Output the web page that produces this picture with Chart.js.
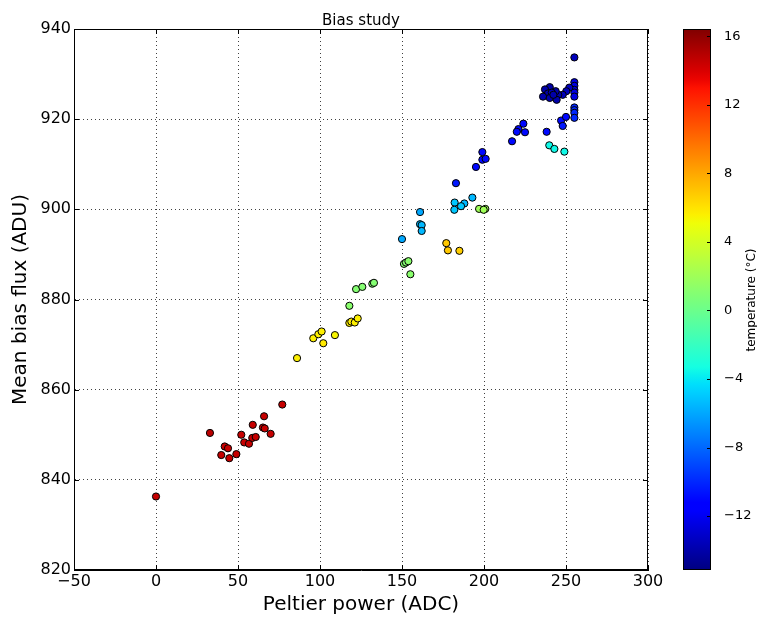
<!DOCTYPE html>
<html>
<head>
<meta charset="utf-8">
<script src="https://cdn.jsdelivr.net/npm/chart.js@4/dist/chart.umd.min.js"></script>
<style>
  html, body { margin: 0; padding: 0; background: #fff; }
  #wrap { width: 757px; height: 617px; }
</style>
</head>
<body>
<div id="wrap"><canvas id="bias"></canvas></div>
<script>
// puissance du peltier (ADC), flux moyen du bias (ADU), temperature (°C)
const peltierPower = [
  77.0, 65.9, 32.9, 59.0, 52.0, 65.2, 66.3, 69.9, 53.8, 56.7, 58.7, 60.8, 41.9, 43.9, 39.8, 44.7, 49.0, 0,
  86.0, 95.9, 99.0, 101.0, 102.0, 109.1, 117.9, 119.1, 121.2, 123.0,
  117.9, 122.0, 125.8, 131.9, 132.9, 151.2, 152.4, 153.9, 155.1,
  177.0, 178.0, 185.0,
  150.0, 161.0, 161.0, 162.0, 162.0, 182.1, 188.0, 186.0, 181.9, 192.9,
  197.0, 200.8, 199.8,
  182.9, 199.0, 199.0, 201.0, 195.1, 224.0, 221.0, 220.0, 225.0, 238.2, 217.1, 247.0, 248.0, 250.0,
  255.1, 255.1, 255.1, 255.1,
  239.8, 242.9, 249.0,
  255.1, 255.1, 255.1, 255.1, 255.1, 255.1, 252.0, 250.2, 248.0, 245.3, 243.7, 244.3, 240.1, 237.2,
  239.0, 241.3, 236.0, 240.1, 242.3
];
const meanBiasFlux = [
  856.7, 854.1, 850.4, 852.2, 850.0, 851.6, 851.4, 850.2, 848.3, 848.0, 849.3, 849.5, 847.4, 847.0, 845.5, 844.8, 845.7, 836.3,
  867.0, 871.4, 872.3, 872.9, 870.3, 872.1, 874.8, 875.1, 874.9, 875.8,
  878.6, 882.3, 882.8, 883.5, 883.7, 887.9, 888.2, 888.5, 885.6,
  892.5, 890.9, 890.8,
  893.4, 899.4, 896.7, 896.5, 895.2, 901.5, 901.3, 900.7, 899.9, 902.6,
  900.1, 900.1, 899.9,
  905.8, 912.7, 911.0, 911.2, 909.4, 919.0, 917.8, 917.2, 917.1, 917.2, 915.1, 919.7, 918.5, 920.5,
  922.6, 922.0, 921.4, 920.3,
  914.2, 913.4, 912.8,
  933.7, 928.2, 927.4, 926.5, 925.9, 925.0, 927.0, 926.2, 925.4, 925.4, 926.2, 924.3, 927.1, 926.6,
  925.7, 925.9, 925.0, 924.7, 925.4
];
const temperature = [
  14.5, 14.5, 14.8, 14.5, 14.5, 14.5, 14.5, 14.5, 14.5, 14.5, 14.5, 14.5, 14.5, 14.5, 14.5, 14.5, 14.5, 14.5,
  5.6, 5.6, 5.6, 5.6, 5.8, 5.4, 5.6, 5.6, 5.6, 5.6,
  1.2, 1.0, 1.0, 1.0, 1.0, 1.0, 1.0, 1.2, 1.2,
  6.9, 6.9, 6.7,
  -6.0, -6.0, -5.5, -5.5, -5.5, -5.0, -5.5, -5.0, -5.0, -5.5,
  2.0, 2.0, 2.0,
  -10.5, -11.0, -11.0, -11.0, -11.0, -11.0, -11.0, -11.0, -11.0, -11.0, -11.0, -11.0, -10.5, -11.0,
  -10.0, -10.0, -10.0, -10.0,
  -3.5, -3.5, -3.5,
  -13.5, -12.5, -12.5, -12.5, -12.5, -12.5, -13.5, -13.5, -13.5, -14.0, -14.0, -14.0, -14.0, -14.0,
  -14.0, -14.0, -14.0, -14.0, -14.0
];

const tempMin = -15.15;
const tempMax = 16.43;
const FONT = '"DejaVu Sans", "Liberation Sans", sans-serif';

// colormap jet (comme matplotlib)
function piece(pts, v) {
  for (let i = 1; i < pts.length; i++) {
    if (v <= pts[i][0]) {
      const [x0, y0] = pts[i - 1], [x1, y1] = pts[i];
      return y0 + (y1 - y0) * (v - x0) / (x1 - x0);
    }
  }
  return pts[pts.length - 1][1];
}
function jet(f) {
  f = Math.max(0, Math.min(1, f));
  const r = piece([[0, 0], [0.35, 0], [0.66, 1], [0.89, 1], [1, 0.5]], f);
  const g = piece([[0, 0], [0.125, 0], [0.375, 1], [0.64, 1], [0.91, 0], [1, 0]], f);
  const b = piece([[0, 0.5], [0.11, 1], [0.34, 1], [0.65, 0], [1, 0]], f);
  return `rgb(${Math.round(r * 255)},${Math.round(g * 255)},${Math.round(b * 255)})`;
}
const tempColor = t => jet((t - tempMin) / (tempMax - tempMin));

const minusFmt = v => (v < 0 ? '\u2212' + Math.abs(v) : String(v));

// on dessine le cadre, les ticks internes, le titre et la barre de couleur
const decorPlugin = {
  id: 'decor',
  afterDraw(chart) {
    const { ctx, chartArea: a } = chart;
    const xs = chart.scales.x, ys = chart.scales.y, cb = chart.scales.cb;
    ctx.save();
    ctx.strokeStyle = '#000';
    ctx.lineWidth = 1;
    ctx.strokeRect(a.left + 0.5, a.top + 0.5, a.right - a.left - 1, a.bottom - a.top - 1);

    ctx.beginPath();
    xs.ticks.forEach(t => {
      const px = Math.round(xs.getPixelForValue(t.value)) + 0.5;
      ctx.moveTo(px, a.bottom); ctx.lineTo(px, a.bottom - 5);
      ctx.moveTo(px, a.top); ctx.lineTo(px, a.top + 5);
    });
    ys.ticks.forEach(t => {
      const py = Math.round(ys.getPixelForValue(t.value)) + 0.5;
      ctx.moveTo(a.left, py); ctx.lineTo(a.left + 5, py);
      ctx.moveTo(a.right, py); ctx.lineTo(a.right - 5, py);
    });
    ctx.stroke();

    // titre
    ctx.fillStyle = '#000';
    ctx.font = '15px ' + FONT;
    ctx.textAlign = 'center';
    ctx.textBaseline = 'alphabetic';
    ctx.fillText('Bias study', (a.left + a.right) / 2, 25);

    // barre de couleur
    const bx = a.right + 35, bw = 28;
    const top = cb.getPixelForValue(tempMax), bot = cb.getPixelForValue(tempMin);
    const grad = ctx.createLinearGradient(0, bot, 0, top);
    for (let i = 0; i <= 64; i++) grad.addColorStop(i / 64, jet(i / 64));
    ctx.fillStyle = grad;
    ctx.fillRect(bx, top, bw, bot - top);
    ctx.strokeStyle = '#000';
    ctx.strokeRect(bx + 0.5, top + 0.5, bw - 1, bot - top - 1);
    ctx.beginPath();
    cb.ticks.forEach(t => {
      const py = Math.round(cb.getPixelForValue(t.value)) + 0.5;
      ctx.moveTo(bx + bw, py); ctx.lineTo(bx + bw - 4, py);
    });
    ctx.stroke();

    ctx.translate(752, 300);
    ctx.rotate(-Math.PI / 2);
    ctx.fillStyle = '#000';
    ctx.font = '12px ' + FONT;
    ctx.textAlign = 'center';
    ctx.textBaseline = 'middle';
    ctx.fillText('temperature (\u00B0C)', 0, 0);
    ctx.restore();
  }
};

const points = peltierPower.map((p, i) => ({ x: p, y: meanBiasFlux[i] }));

new Chart(document.getElementById('bias'), {
  type: 'scatter',
  data: {
    datasets: [{
      label: 'bias',
      data: points,
      backgroundColor: temperature.map(tempColor),
      borderColor: '#000',
      borderWidth: 1,
      pointRadius: 3.6,
      pointHoverRadius: 3.6
    }]
  },
  options: {
    responsive: true,
    maintainAspectRatio: false,
    animation: false,
    layout: { padding: { top: 29, left: 0, right: 0, bottom: 0 } },
    plugins: { legend: { display: false }, tooltip: { enabled: false }, title: { display: false } },
    scales: {
      x: {
        type: 'linear',
        min: -50, max: 300,
        afterFit: s => { s.height = 47; },
        ticks: { stepSize: 50, padding: 2, color: '#000', font: { family: FONT, size: 16 }, callback: minusFmt },
        grid: { color: 'rgba(0,0,0,0.75)', lineWidth: 1, drawTicks: false },
        border: { display: true, color: '#000', width: 1, dash: [1, 3] },
        title: { display: true, text: 'Peltier power (ADC)', color: '#000', font: { family: FONT, size: 20 }, padding: { top: 0, bottom: 0 } }
      },
      y: {
        type: 'linear',
        min: 820, max: 940,
        afterFit: s => { s.width = 74; },
        ticks: { stepSize: 20, padding: 3, color: '#000', font: { family: FONT, size: 16 } },
        grid: { color: 'rgba(0,0,0,0.75)', lineWidth: 1, drawTicks: false },
        border: { display: true, color: '#000', width: 1, dash: [1, 3] },
        title: { display: true, text: 'Mean bias flux (ADU)', color: '#000', font: { family: FONT, size: 20 }, padding: { top: 9, bottom: 0 } }
      },
      cb: {
        type: 'linear',
        position: 'right',
        min: tempMin, max: tempMax,
        afterFit: s => { s.width = 109; s.paddingTop = 0; s.paddingBottom = 0; },
        ticks: { stepSize: 4, includeBounds: false, padding: 68, color: '#000', font: { family: FONT, size: 13 }, callback: minusFmt },
        grid: { display: false, drawOnChartArea: false },
        border: { display: false }
      }
    }
  },
  plugins: [decorPlugin]
});
</script>
</body>
</html>
